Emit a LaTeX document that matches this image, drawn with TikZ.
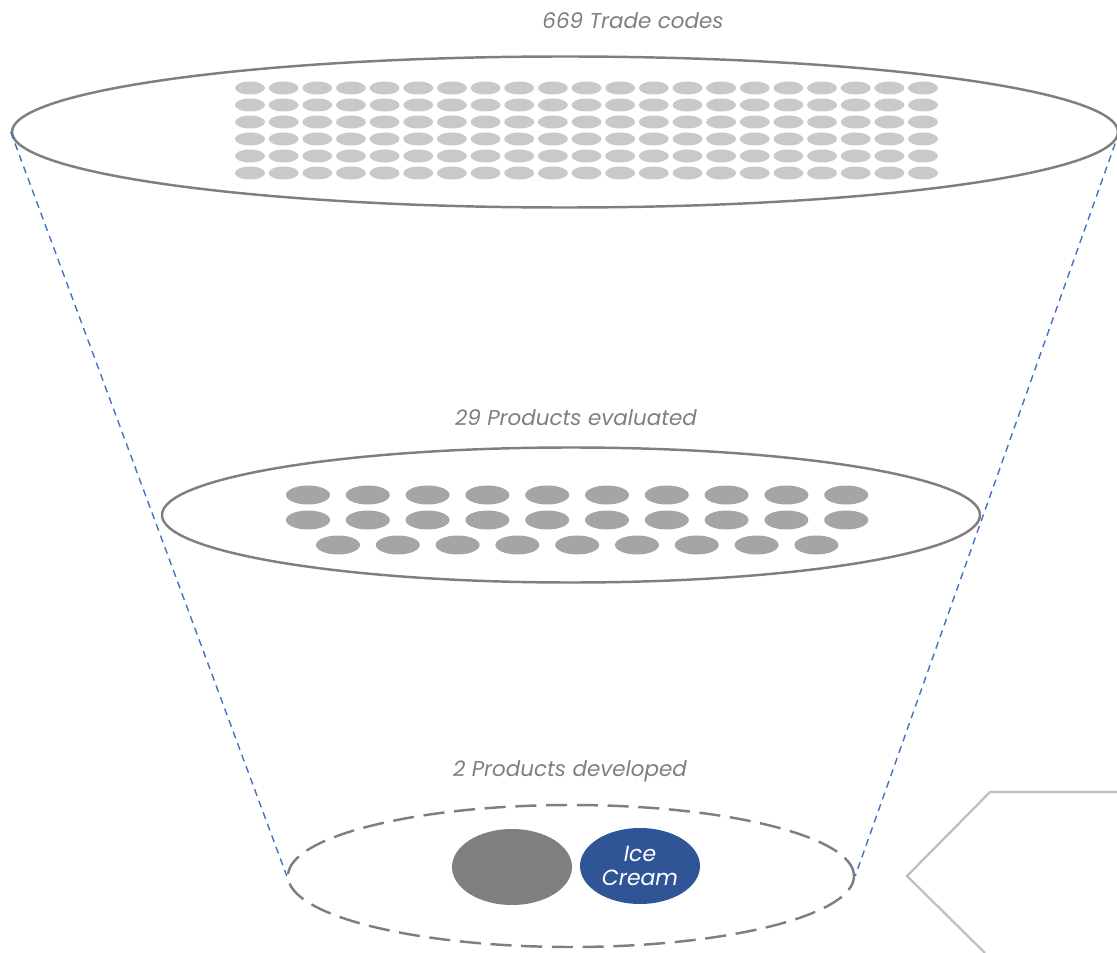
\documentclass[tikz,border=0pt]{standalone}
\usepackage{fontspec}
\setmainfont{Poppins}
\usetikzlibrary{shapes.geometric}
\definecolor{mgray}{HTML}{7F7F7F}
\definecolor{lgray}{HTML}{C9C9C9}
\definecolor{dgray}{HTML}{A5A5A5}
\definecolor{sgray}{HTML}{BFBFBF}
\definecolor{mblue}{HTML}{4472C4}
\definecolor{dblue}{HTML}{2F5597}
\tikzset{oval/.style 2 args = {ellipse, inner sep = 0, minimum width = #1*0.02cm,
                                minimum height = #2*0.02cm}}
\tikzset{rim/.style = {draw = mgray, line width = 1.4pt}}
\tikzset{tdot/.style = {oval = {30}{13}, fill = lgray}}
\tikzset{mdot/.style = {oval = {44}{19}, fill = dgray}}
\tikzset{lbl/.style = {text = mgray, font = \itshape\fontsize{12.2}{14}\selectfont}}
\tikzset{funnel/.style = {draw = mblue, line width = 0.8pt, dash pattern = on 4pt off 3pt}}

\begin{document}
\begin{tikzpicture}[x = 0.02cm, y = -0.02cm]
    \useasboundingbox (0, 0) rectangle (1117, 953);

    \node [rim, oval = {1106}{151}] (top) at (565, 132) {};
    \node [rim, oval = {818}{135}] (mid) at (571, 515) {};
    \node [rim, oval = {566}{142}, dash pattern = on 12pt off 5.5pt] (bot) at (571, 876) {};

    \foreach \i in {0,...,20}
      \foreach \j in {0,...,5}
        \node [tdot] (t-\i-\j) at ({250 + 33.65*\i}, {88 + 17*\j}) {};

    \foreach \i in {0,...,9} {
      \node [mdot] (m-\i-0) at ({308 + 59.8*\i}, 495) {};
      \node [mdot] (m-\i-1) at ({308 + 59.8*\i}, 520) {};
    }
    \foreach \i in {0,...,8}
      \node [mdot] (m-\i-2) at ({338 + 59.8*\i}, 545) {};

    \node [oval = {120}{76}, fill = mgray] (prodA) at (512, 867) {};
    \node [oval = {120}{76}, fill = dblue, text = white, align = center,
           font = \itshape\fontsize{12.5}{14}\selectfont] (prodB) at (640, 866) {Ice\\Cream};

    \node [lbl] (topname) at (633, 21) {669 Trade codes};
    \node [lbl] (midname) at (576, 418) {29 Products evaluated};
    \node [lbl] (botname) at (570, 771) {2 Products developed};

    \draw [funnel] (top.west) -- (bot.west);
    \draw [funnel] (top.east) -- (bot.east);

    \draw [sgray, line width = 1.3pt] (1117, 792) -- (990, 792) -- (907, 876) -- (985, 953);
  \end{tikzpicture}
\end{document}
